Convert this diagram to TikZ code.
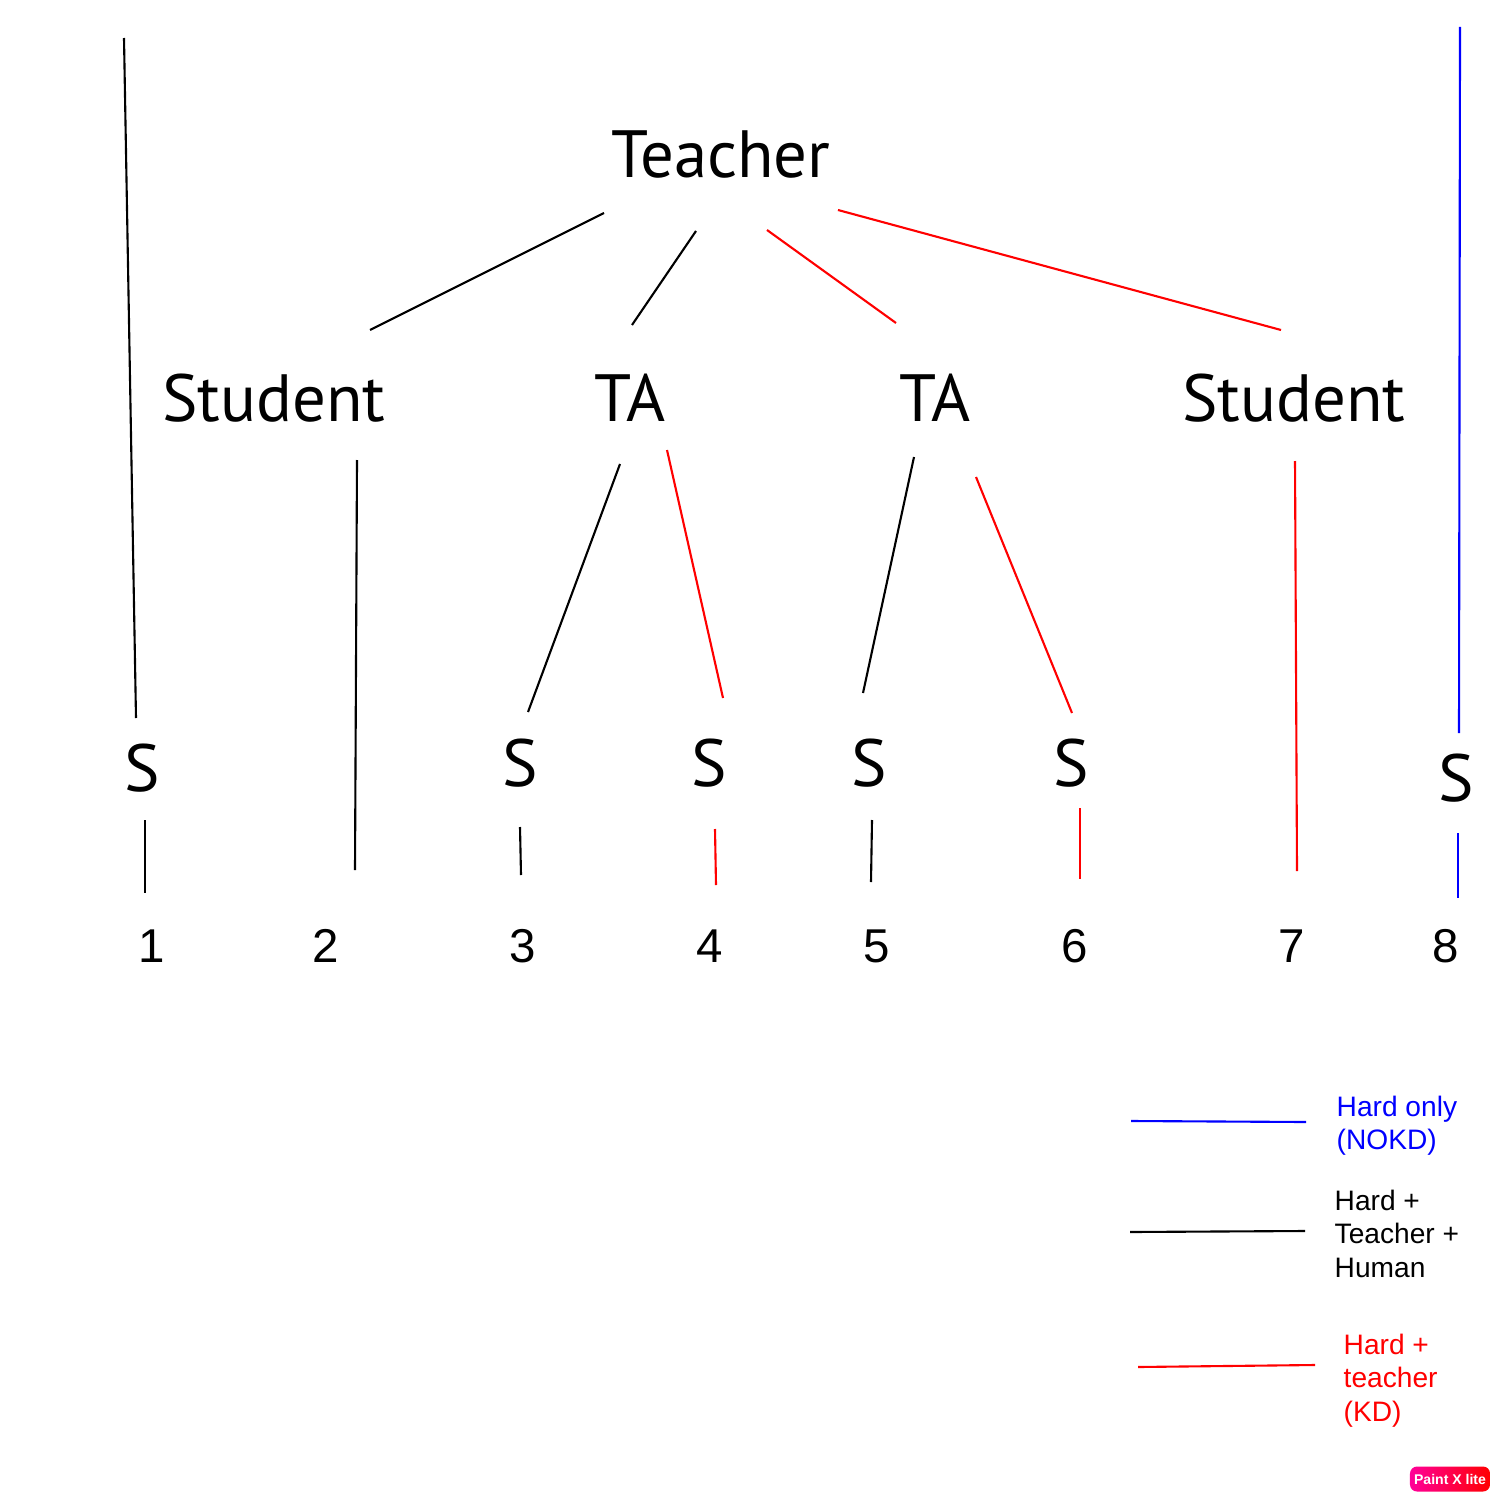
\documentclass[tikz,border=0pt]{standalone}
\usepackage{fontspec}
\setmainfont{PT Sans}
\newfontfamily\numfont{Liberation Sans}
\definecolor{kdred}{RGB}{255,0,0}
\definecolor{nokdblue}{RGB}{0,0,255}
\definecolor{pxpink}{RGB}{255,0,153}

\begin{document}
\begin{tikzpicture}[x=0.01cm, y=-0.01cm,
  lbl/.style={inner sep=0pt, font=\fontsize{19}{22}\selectfont},
  num/.style={inner sep=0pt, font=\numfont\fontsize{13.5}{16}\selectfont},
  key/.style={inner sep=0pt, anchor=north west, align=left, font=\numfont\fontsize{8}{9.6}\selectfont},
  blk/.style={line width=0.6pt},
  rd/.style={line width=0.6pt, kdred},
  bl/.style={line width=0.6pt, nokdblue}]
\useasboundingbox (0,0) rectangle (1500,1500);
% Tree
\node[lbl] (teacher) at (721,155) {Teacher};
\node[lbl] (stuL) at (274,398) {Student};
\node[lbl] (taA) at (630,398) {TA};
\node[lbl] (taB) at (935,398) {TA};
\node[lbl] (stuR) at (1294,398) {Student};
\node[lbl] (s1) at (142,768) {S};
\node[lbl] (s3) at (520,763) {S};
\node[lbl] (s4) at (709,763) {S};
\node[lbl] (s5) at (869,763) {S};
\node[lbl] (s6) at (1071,763) {S};
\node[lbl] (s8) at (1456,778) {S};
\coordinate (topL) at (124,38);
\coordinate (topR) at (1460,27);
% Leaves
\node[num] (n1) at (152,946) {1};
\node[num] (n2) at (326,946) {2};
\node[num] (n3) at (523,946) {3};
\node[num] (n4) at (710,946) {4};
\node[num] (n5) at (877,946) {5};
\node[num] (n6) at (1075,946) {6};
\node[num] (n7) at (1292,946) {7};
\node[num] (n8) at (1446,946) {8};
% Edges from the teacher
\draw[blk] ([shift={(-117,58)}]teacher.center) -- ([shift={(96,-68)}]stuL.center);
\draw[blk] ([shift={(-25,76)}]teacher.center) -- ([shift={(2,-73)}]taA.center);
\draw[rd] ([shift={(46,75)}]teacher.center) -- ([shift={(-39,-75)}]taB.center);
\draw[rd] ([shift={(117,55)}]teacher.center) -- ([shift={(-13,-68)}]stuR.center);
% Edges below
\draw[blk] (topL) -- ([shift={(-6,-50)}]s1.center);
\draw[bl] (topR) -- ([shift={(3,-45)}]s8.center);
\draw[blk] ([shift={(83,62)}]stuL.center) -- ([shift={(29,-76)}]n2.center);
\draw[blk] ([shift={(-10,66)}]taA.center) -- ([shift={(8,-51)}]s3.center);
\draw[rd] ([shift={(37,52)}]taA.center) -- ([shift={(14,-65)}]s4.center);
\draw[blk] ([shift={(-21,59)}]taB.center) -- ([shift={(-6,-70)}]s5.center);
\draw[rd] ([shift={(41,79)}]taB.center) -- ([shift={(1,-50)}]s6.center);
\draw[rd] ([shift={(1,63)}]stuR.center) -- ([shift={(5,-75)}]n7.center);
\draw[blk] ([shift={(3,52)}]s1.center) -- ([shift={(-7,-53)}]n1.center);
\draw[blk] ([shift={(0,64)}]s3.center) -- ([shift={(-2,-71)}]n3.center);
\draw[rd] ([shift={(6,66)}]s4.center) -- ([shift={(6,-61)}]n4.center);
\draw[blk] ([shift={(3,57)}]s5.center) -- ([shift={(-6,-64)}]n5.center);
\draw[rd] ([shift={(9,45)}]s6.center) -- ([shift={(5,-67)}]n6.center);
\draw[bl] ([shift={(2,55)}]s8.center) -- ([shift={(12,-48)}]n8.center);
% Legend
\coordinate (keyA) at (1131,1121);
\coordinate (keyB) at (1130,1232);
\coordinate (keyC) at (1138,1367);
\draw[bl] (keyA) -- ++(175,1);
\draw[blk] (keyB) -- ++(175,-1);
\draw[rd] (keyC) -- ++(177,-2);
\node[key, nokdblue] (legA) at (1336,1095) {Hard only\\(NOKD)};
\node[key] (legB) at (1334,1189) {Hard +\\Teacher +\\Human};
\node[key, kdred] (legC) at (1343,1333) {Hard +\\teacher\\(KD)};
% Badge
\node[rounded corners=2pt, left color=pxpink, right color=kdred, text=white,
  minimum width=0.8cm, minimum height=0.25cm, inner sep=0pt,
  font=\numfont\bfseries\fontsize{4}{5}\selectfont] (paintx) at (1450,1479) {Paint X lite};
\end{tikzpicture}
\end{document}
